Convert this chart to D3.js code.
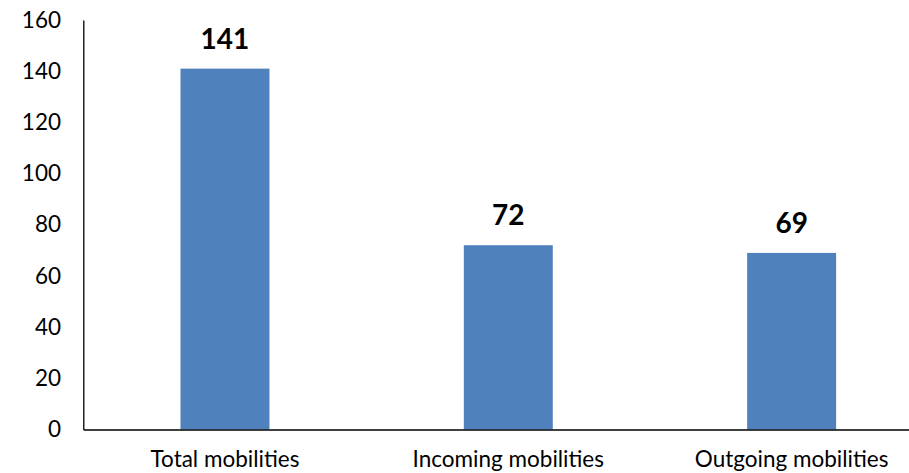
<!DOCTYPE html>
<html><head><meta charset="utf-8">
<script src="https://cdn.jsdelivr.net/npm/d3@7"></script>
<style>body{margin:0;background:#fff}svg{display:block}</style>
</head><body>
<script>
const categories = ["Total mobilities", "Incoming mobilities", "Outgoing mobilities"];
const values = [141, 72, 69];
const yTicks = [0, 20, 40, 60, 80, 100, 120, 140, 160];

const W = 909, H = 473;
const m = {left: 83.3, top: 20, bottom: 43.5};
const plotW = 850;
const svg = d3.select("body").append("svg").attr("width", W).attr("height", H);
const font = "Lato, 'Open Sans', sans-serif";
const fs = 22.5;

const x = d3.scaleBand().domain(categories).range([m.left, m.left + plotW])
  .paddingInner(0.686).paddingOuter(0.343);
const y = d3.scaleLinear().domain([0, 160]).range([H - m.bottom, m.top]);

svg.selectAll("rect.bar").data(values).join("rect").attr("class", "bar")
  .attr("x", (d, i) => x(categories[i])).attr("width", x.bandwidth())
  .attr("y", d => y(d)).attr("height", d => y(0) - y(d))
  .attr("fill", "#4F81BD");

const yAxis = svg.append("g").attr("transform", `translate(${m.left},0)`)
  .call(d3.axisLeft(y).tickValues(yTicks).tickSize(0).tickPadding(22.3));
yAxis.select(".domain").attr("stroke", "#000").attr("stroke-width", 1.3);
yAxis.selectAll("text").attr("font-family", font).attr("font-size", fs).attr("fill", "#000");

const xAxis = svg.append("g").attr("transform", `translate(0,${y(0)})`)
  .call(d3.axisBottom(x).tickSize(0).tickPadding(22));
xAxis.select(".domain").attr("stroke", "#000").attr("stroke-width", 1.5);
xAxis.selectAll("text").attr("font-family", font).attr("font-size", fs).attr("fill", "#000");

svg.selectAll("text.lbl").data(values).join("text").attr("class", "lbl")
  .attr("x", (d, i) => x(categories[i]) + x.bandwidth() / 2)
  .attr("y", d => y(d) - 20)
  .attr("text-anchor", "middle")
  .attr("font-family", font).attr("font-weight", "bold").attr("font-size", 28)
  .attr("fill", "#000").text(d => d);
</script>
</body></html>
